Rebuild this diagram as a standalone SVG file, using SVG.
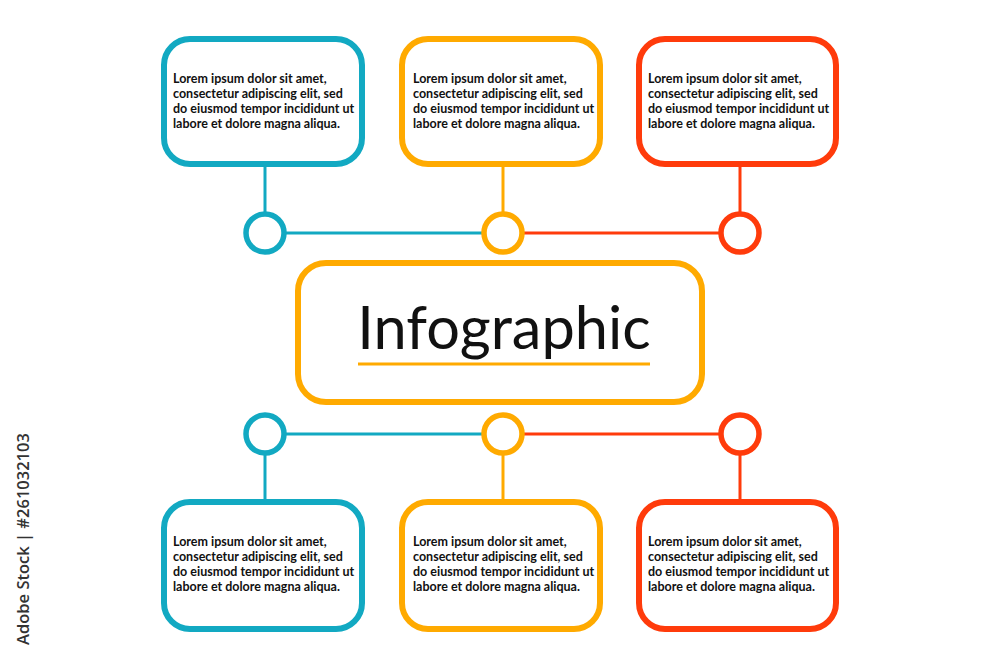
<svg xmlns="http://www.w3.org/2000/svg" width="1000" height="667" viewBox="0 0 1000 667">
<style>
.box{fill:#fff;stroke-width:6}
.c{stroke:#12a9c2}.o{stroke:#ffaa00}.r{stroke:#ff3b0b}
.dot{fill:#fff;stroke-width:5.5}
.ln{stroke-width:3;fill:none}
.t{font-family:Lato,"Liberation Sans",sans-serif;font-weight:bold;font-size:12.5px;fill:#111}
.title{font-family:Lato,"Liberation Sans",sans-serif;font-size:59.5px;fill:#111}
</style>
<rect width="1000" height="667" fill="#fff"/>
<g id="connectors">
<line class="ln c" x1="265" y1="166" x2="265" y2="214"/>
<line class="ln o" x1="503" y1="166" x2="503" y2="214"/>
<line class="ln r" x1="740" y1="166" x2="740" y2="214"/>
<line class="ln c" x1="265" y1="233" x2="503" y2="233"/>
<line class="ln r" x1="503" y1="233" x2="740" y2="233"/>
<line class="ln c" x1="265" y1="434" x2="503" y2="434"/>
<line class="ln r" x1="503" y1="434" x2="740" y2="434"/>
<line class="ln c" x1="265" y1="453" x2="265" y2="500"/>
<line class="ln o" x1="503" y1="453" x2="503" y2="500"/>
<line class="ln r" x1="740" y1="453" x2="740" y2="500"/>
</g>
<g id="dots">
<circle class="dot c" cx="265" cy="233" r="19"/>
<circle class="dot o" cx="503" cy="233" r="19"/>
<circle class="dot r" cx="740" cy="233" r="19"/>
<circle class="dot c" cx="265" cy="434" r="19"/>
<circle class="dot o" cx="503" cy="434" r="19"/>
<circle class="dot r" cx="740" cy="434" r="19"/>
</g>
<g id="center">
<rect class="box o" x="298" y="263" width="404" height="139" rx="28"/>
<text class="title" x="504" y="349" text-anchor="middle">Infographic</text>
<line class="ln o" x1="358" y1="364" x2="650" y2="364" stroke-width="2.5"/>
</g>
<g id="box-top-1">
<rect class="box c" x="164" y="39" width="198" height="125" rx="26"/>
<text class="t"><tspan x="173" y="83">Lorem ipsum dolor sit amet,</tspan><tspan x="173" y="98">consectetur adipiscing elit, sed</tspan><tspan x="173" y="113">do eiusmod tempor incididunt ut</tspan><tspan x="173" y="128">labore et dolore magna aliqua.</tspan></text>
</g>
<g id="box-top-2">
<rect class="box o" x="402" y="39" width="198" height="125" rx="26"/>
<text class="t"><tspan x="413" y="83">Lorem ipsum dolor sit amet,</tspan><tspan x="413" y="98">consectetur adipiscing elit, sed</tspan><tspan x="413" y="113">do eiusmod tempor incididunt ut</tspan><tspan x="413" y="128">labore et dolore magna aliqua.</tspan></text>
</g>
<g id="box-top-3">
<rect class="box r" x="639" y="39" width="197" height="125" rx="26"/>
<text class="t"><tspan x="648" y="83">Lorem ipsum dolor sit amet,</tspan><tspan x="648" y="98">consectetur adipiscing elit, sed</tspan><tspan x="648" y="113">do eiusmod tempor incididunt ut</tspan><tspan x="648" y="128">labore et dolore magna aliqua.</tspan></text>
</g>
<g id="box-bottom-1">
<rect class="box c" x="164" y="502" width="198" height="127" rx="26"/>
<text class="t"><tspan x="173" y="546">Lorem ipsum dolor sit amet,</tspan><tspan x="173" y="561">consectetur adipiscing elit, sed</tspan><tspan x="173" y="576">do eiusmod tempor incididunt ut</tspan><tspan x="173" y="591">labore et dolore magna aliqua.</tspan></text>
</g>
<g id="box-bottom-2">
<rect class="box o" x="402" y="502" width="198" height="127" rx="26"/>
<text class="t"><tspan x="413" y="546">Lorem ipsum dolor sit amet,</tspan><tspan x="413" y="561">consectetur adipiscing elit, sed</tspan><tspan x="413" y="576">do eiusmod tempor incididunt ut</tspan><tspan x="413" y="591">labore et dolore magna aliqua.</tspan></text>
</g>
<g id="box-bottom-3">
<rect class="box r" x="639" y="502" width="197" height="127" rx="26"/>
<text class="t"><tspan x="648" y="546">Lorem ipsum dolor sit amet,</tspan><tspan x="648" y="561">consectetur adipiscing elit, sed</tspan><tspan x="648" y="576">do eiusmod tempor incididunt ut</tspan><tspan x="648" y="591">labore et dolore magna aliqua.</tspan></text>
</g>
<text transform="translate(29,539) rotate(-90)" text-anchor="middle" font-family="'Open Sans','Liberation Sans',sans-serif" font-size="16.5" font-weight="600" fill="#333">Adobe Stock | #261032103</text>
</svg>
